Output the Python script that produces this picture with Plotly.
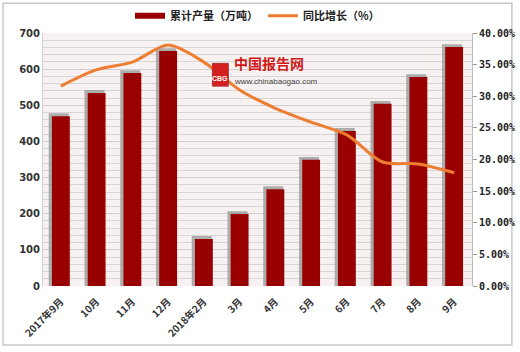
import plotly.graph_objects as go

categories = ["2017年9月", "10月", "11月", "12月", "2018年2月", "3月", "4月", "5月", "6月", "7月", "8月", "9月"]
output_wt = [470, 534, 589, 650, 130, 199, 268, 349, 429, 504, 578, 661]
growth_pct = [31.6, 34.2, 35.4, 38.1, 35.4, 31.0, 28.1, 25.9, 23.9, 19.6, 19.3, 17.9]
left_ticks = [0, 100, 200, 300, 400, 500, 600, 700]
right_ticks = [0, 5, 10, 15, 20, 25, 30, 35, 40]

FONT = "Noto Sans CJK SC"
fig = go.Figure()

# bar shadow
fig.add_trace(go.Bar(
    x=categories, y=[v + 8 for v in output_wt], width=0.56, offset=-0.34,
    marker=dict(color="rgba(150,150,150,0.75)", line=dict(width=0)),
    showlegend=False, hoverinfo="skip", yaxis="y"))
fig.add_trace(go.Bar(
    x=categories, y=output_wt, width=0.5, offset=-0.25, name="累计产量（万吨）",
    marker=dict(color="#990000", line=dict(width=0)), yaxis="y", showlegend=False))
# legend proxy for bars (wide rectangle swatch)
fig.add_trace(go.Scatter(
    x=[categories[0]], y=[None], name="<b>累计产量（万吨）</b>", mode="lines",
    line=dict(color="#990000", width=6), yaxis="y"))
fig.add_trace(go.Scatter(
    x=categories, y=growth_pct, name="<b>同比增长（%）</b>", mode="lines",
    line=dict(color="#ED7D31", width=3, shape="spline", smoothing=0.8), yaxis="y2"))

# outer frame
fig.add_shape(type="rect", xref="paper", yref="paper", x0=-0.093, x1=1.093, y0=-0.233, y1=1.118,
              line=dict(color="#C8C8C8", width=1.5), fillcolor="rgba(0,0,0,0)", layer="below")

# watermark
fig.add_shape(type="rect", xref="paper", yref="paper", x0=0.395, x1=0.432, y0=0.79, y1=0.88,
              line=dict(color="#B03030", width=1), fillcolor="#D42020")
fig.add_annotation(x=0.4135, y=0.80, xref="paper", yref="paper", text="<b>CBG</b>", showarrow=False,
                   font=dict(size=7, color="white", family="Liberation Sans"), yanchor="bottom")
fig.add_annotation(x=0.44, y=0.835, xref="paper", yref="paper", text="<b>中国报告网</b>", showarrow=False,
                   xanchor="left", yanchor="bottom", font=dict(size=14, color="#D01818", family=FONT))
fig.add_annotation(x=0.44, y=0.835, xref="paper", yref="paper", text="www.chinabaogao.com", showarrow=False,
                   xanchor="left", yanchor="top", font=dict(size=8, color="#444", family="Liberation Sans"))

fig.update_layout(
    width=520, height=352,
    margin=dict(l=43, r=48, t=33, b=66, autoexpand=False),
    paper_bgcolor="white", plot_bgcolor="#F8F1F1",
    barmode="overlay", bargap=0.5,
    font=dict(family=FONT, size=10, color="#333"),
    legend=dict(orientation="h", x=0.5, xanchor="center", y=1.068, yanchor="middle",
                font=dict(size=11, color="#222", family=FONT), bgcolor="rgba(0,0,0,0)",
                itemwidth=30, tracegroupgap=0),
    xaxis=dict(tickangle=-45, tickfont=dict(size=10, family=FONT, color="#333"),
               showgrid=False, showline=False, ticks="outside", ticklen=5,
               tickcolor="rgba(0,0,0,0)", automargin=False),
    yaxis=dict(range=[0, 700], tickvals=left_ticks, showgrid=True, gridcolor="#CFCFCF", gridwidth=1,
               minor=dict(dtick=20, showgrid=True, gridcolor="#D6D6D6", gridwidth=1),
               tickfont=dict(size=10, color="#333", family="DejaVu Sans"), zeroline=False,
               showline=True, linecolor="#D0D0D0", ticks="", automargin=False,
               ticktext=[f"<b>{v}</b>" for v in left_ticks], tickmode="array"),
    yaxis2=dict(range=[0, 40], tickvals=right_ticks, overlaying="y", side="right",
                ticktext=[f"<b>{v:.2f}%</b>" for v in right_ticks], tickmode="array",
                showgrid=False, zeroline=False, showline=True, linecolor="#BBBBBB",
                ticks="outside", ticklen=4, tickcolor="#999", automargin=False,
                tickfont=dict(size=10, color="#222", family="DejaVu Sans Mono")),
)
fig.update_xaxes(tickvals=categories, ticktext=[f"<b>{c}</b>" for c in categories])
fig.write_html("out.html")
